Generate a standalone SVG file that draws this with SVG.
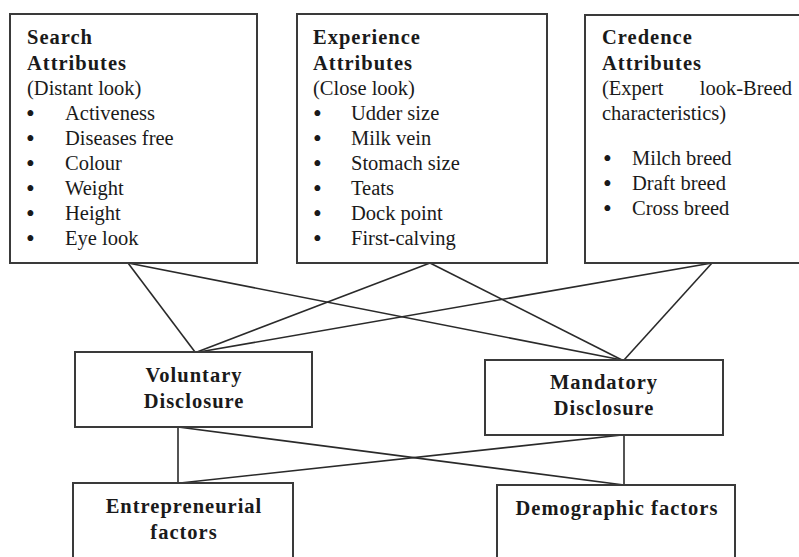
<svg xmlns="http://www.w3.org/2000/svg" width="799" height="557" viewBox="0 0 799 557">
<style>
.box{fill:#fff;stroke:#3a3a3a;stroke-width:2}
.conn line{stroke:#2a2a2a;stroke-width:1.6}
.b{font-weight:bold;letter-spacing:1px}
.c{text-anchor:middle}
.u{font-size:25px}
</style>
<rect width="799" height="557" fill="#fff"/>
<g class="conn">
<line x1="128" y1="263" x2="195" y2="352"/>
<line x1="128" y1="263" x2="622" y2="360"/>
<line x1="430" y1="263" x2="197" y2="352"/>
<line x1="430" y1="263" x2="622" y2="360"/>
<line x1="712" y1="263" x2="199" y2="352"/>
<line x1="712" y1="263" x2="624" y2="360"/>
<line x1="178" y1="427" x2="178" y2="483"/>
<line x1="178" y1="427" x2="624" y2="485"/>
<line x1="624" y1="435" x2="624" y2="485"/>
<line x1="622" y1="435" x2="180" y2="483"/>
</g>
<g font-family="Liberation Serif, Times New Roman, serif" font-size="20.5" fill="#1a1a1a">
<g id="search">
<rect class="box" x="10" y="14" width="247" height="249"/>
<text class="b" x="27" y="44">Search</text>
<text class="b" x="27" y="70">Attributes</text>
<text x="27" y="95">(Distant look)</text>
<text class="u" x="26" y="122">•</text><text x="65" y="120">Activeness</text>
<text class="u" x="26" y="147">•</text><text x="65" y="145">Diseases free</text>
<text class="u" x="26" y="172">•</text><text x="65" y="170">Colour</text>
<text class="u" x="26" y="197">•</text><text x="65" y="195">Weight</text>
<text class="u" x="26" y="222">•</text><text x="65" y="220">Height</text>
<text class="u" x="26" y="247">•</text><text x="65" y="245">Eye look</text>
</g>
<g id="experience">
<rect class="box" x="297" y="14" width="250" height="249"/>
<text class="b" x="313" y="44">Experience</text>
<text class="b" x="313" y="70">Attributes</text>
<text x="313" y="95">(Close look)</text>
<text class="u" x="313" y="122">•</text><text x="351" y="120">Udder size</text>
<text class="u" x="313" y="147">•</text><text x="351" y="145">Milk vein</text>
<text class="u" x="313" y="172">•</text><text x="351" y="170">Stomach size</text>
<text class="u" x="313" y="197">•</text><text x="351" y="195">Teats</text>
<text class="u" x="313" y="222">•</text><text x="351" y="220">Dock point</text>
<text class="u" x="313" y="247">•</text><text x="351" y="245">First-calving</text>
</g>
<g id="credence">
<rect class="box" x="585" y="15" width="230" height="248"/>
<text class="b" x="602" y="44">Credence</text>
<text class="b" x="602" y="70">Attributes</text>
<text x="602" y="95">(Expert</text>
<text x="792" y="95" text-anchor="end">look-Breed</text>
<text x="602" y="120">characteristics)</text>
<text class="u" x="603" y="167">•</text><text x="632" y="165">Milch breed</text>
<text class="u" x="603" y="192">•</text><text x="632" y="190">Draft breed</text>
<text class="u" x="603" y="217">•</text><text x="632" y="215">Cross breed</text>
</g>
<g id="voluntary">
<rect class="box" x="75" y="352" width="237" height="75"/>
<text class="b c" x="194" y="382">Voluntary</text>
<text class="b c" x="194" y="408">Disclosure</text>
</g>
<g id="mandatory">
<rect class="box" x="485" y="360" width="238" height="75"/>
<text class="b c" x="604" y="389">Mandatory</text>
<text class="b c" x="604" y="415">Disclosure</text>
</g>
<g id="entrepreneurial">
<rect class="box" x="73" y="483" width="220" height="90"/>
<text class="b c" x="184" y="513">Entrepreneurial</text>
<text class="b c" x="184" y="539">factors</text>
</g>
<g id="demographic">
<rect class="box" x="497" y="485" width="238" height="90"/>
<text class="b c" x="617" y="515">Demographic factors</text>
</g>
</g>
</svg>
